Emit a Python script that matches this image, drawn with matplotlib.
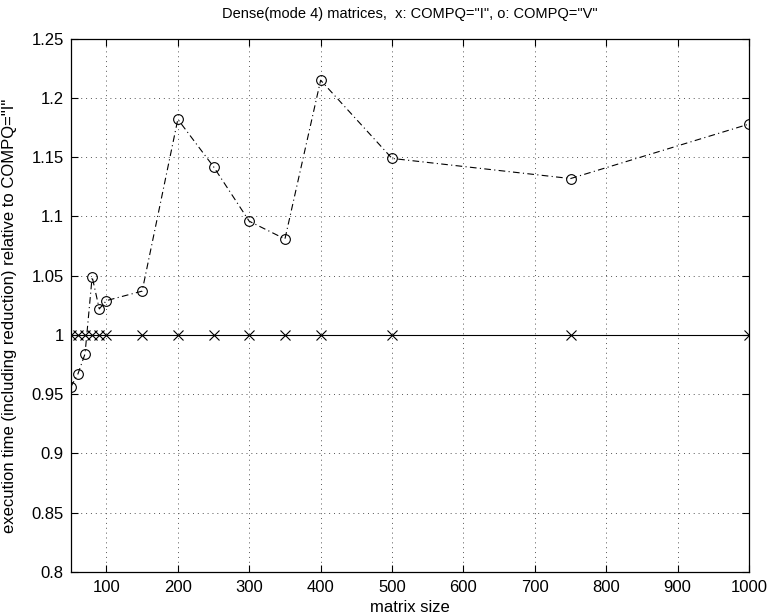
import matplotlib
matplotlib.use("Agg")
import matplotlib.pyplot as plt

plt.rcParams['font.family'] = ['Liberation Sans', 'DejaVu Sans']

sizes = [50, 60, 70, 80, 90, 100, 150, 200, 250, 300, 350, 400, 500, 750, 1000]
compq_i = [1.0] * len(sizes)
compq_v = [0.956, 0.967, 0.984, 1.049, 1.022, 1.029, 1.037, 1.182, 1.142,
           1.096, 1.081, 1.215, 1.149, 1.132, 1.178]

x_ticks = [100, 200, 300, 400, 500, 600, 700, 800, 900, 1000]
y_ticks = [0.8, 0.85, 0.9, 0.95, 1.0, 1.05, 1.1, 1.15, 1.2, 1.25]
y_tick_labels = ['0.8', '0.85', '0.9', '0.95', '1', '1.05', '1.1', '1.15', '1.2', '1.25']

fig = plt.figure(figsize=(7.73, 6.15), dpi=100)
ax = fig.add_axes([0.0915, 0.070, 0.8775, 0.867])

ax.plot(sizes, compq_i, color='black', linestyle='-', linewidth=0.8,
        marker='x', markersize=7.5, markeredgewidth=0.8)
ax.plot(sizes, compq_v, color='black', linestyle='-.', linewidth=0.8,
        dashes=(6, 3, 1, 3),
        marker='o', markersize=7, markerfacecolor='none', markeredgewidth=0.8)

ax.set_xlim(50, 1000)
ax.set_ylim(0.8, 1.25)
ax.set_xticks(x_ticks)
ax.set_yticks(y_ticks)
ax.set_yticklabels(y_tick_labels)

ax.grid(True, color='#555555', linestyle=(0, (1, 4)), linewidth=0.7)
ax.tick_params(direction='in', top=True, right=True, length=5, width=0.8,
               labelsize=12, pad=5)
ax.tick_params(axis='x', pad=6)
for s in ax.spines.values():
    s.set_linewidth(0.9)

ax.set_title('Dense(mode 4) matrices,  x: COMPQ="I", o: COMPQ="V"', fontsize=10.5, pad=15)
ax.set_xlabel('matrix size', fontsize=12)
ax.set_ylabel('execution time (including reduction) relative to COMPQ="I"', fontsize=12)
ax.xaxis.set_label_coords(0.5, -0.052)
ax.yaxis.set_label_coords(-0.079, 0.48)

fig.savefig('out.png', dpi=100)
